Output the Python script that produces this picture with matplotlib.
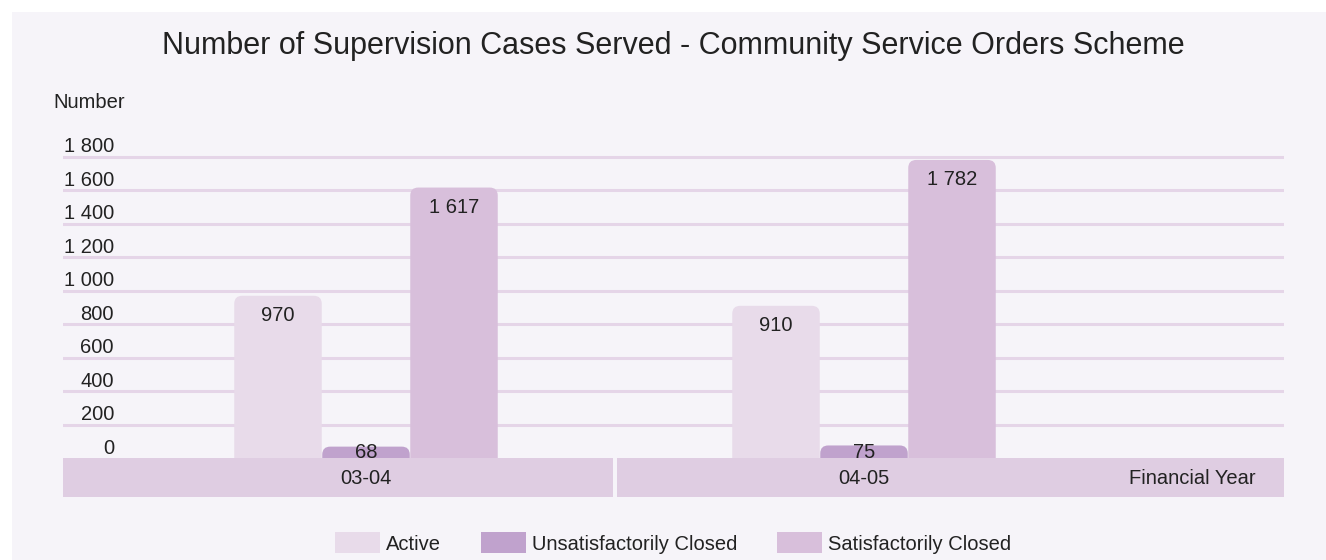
import matplotlib
matplotlib.use("Agg")
import matplotlib.pyplot as plt
from matplotlib.patches import FancyBboxPatch, Rectangle
import matplotlib.transforms as mtransforms

categories = ["03-04", "04-05"]
series_names = ["Active", "Unsatisfactorily Closed", "Satisfactorily Closed"]
active = [970, 910]
unsat = [68, 75]
sat = [1617, 1782]
yticks = [0, 200, 400, 600, 800, 1000, 1200, 1400, 1600, 1800]
ytick_labels = ["0", "200", "400", "600", "800", "1 000", "1 200", "1 400", "1 600", "1 800"]
value_labels = [["970", "910"], ["68", "75"], ["1 617", "1 782"]]

colors = ["#e8dbea", "#c0a2cd", "#d8bfdb"]
band_color = "#dfcde2"
grid_color = "#e5d5e8"
bg = "#f6f4f9"
text_color = "#222222"
FS = 14.5

plt.rcParams['font.family'] = ['Liberation Sans', 'DejaVu Sans']

W, H = 1326, 560
fig = plt.figure(figsize=(W / 100, H / 100), dpi=100)
fig.patch.set_facecolor("white")
fig.patches.append(Rectangle((12 / W, 0), 1 - 12 / W, 1 - 12 / H, transform=fig.transFigure,
                             facecolor=bg, edgecolor="none", zorder=-10))

# axes placement in pixels
ax_left, ax_right, ax_top, ax_bottom = 63, 1284, 150, 497
ax = fig.add_axes([ax_left / W, 1 - ax_bottom / H, (ax_right - ax_left) / W, (ax_bottom - ax_top) / H])
ax.set_facecolor("none")
for s in ax.spines.values():
    s.set_visible(False)
ax.set_xticks([])
ax.set_yticks([])

px_per_unit_y = 33.45 / 200.0
zero_px = 458
ymin = -(ax_bottom - zero_px) / px_per_unit_y
ymax = (zero_px - ax_top) / px_per_unit_y
x0_px, x1_px = 366, 864
px_per_unit_x = x1_px - x0_px
xmin = (ax_left - x0_px) / px_per_unit_x
xmax = (ax_right - x0_px) / px_per_unit_x
ax.set_xlim(xmin, xmax)
ax.set_ylim(ymin, ymax)

# gridlines
for t in yticks[1:]:
    ax.axhline(t, color=grid_color, lw=2.2, zorder=1)

# y tick labels (above lines)
ytrans = mtransforms.offset_copy(ax.get_yaxis_transform(), fig=fig, x=0, y=10, units='dots')
for t, lab in zip(yticks, ytick_labels):
    ax.text((114 - ax_left) / (ax_right - ax_left), t, lab, transform=ytrans,
            ha='right', va='center', fontsize=FS, color=text_color)

# bars
bar_w = 88 / px_per_unit_x
offsets = [-bar_w, 0, bar_w]
all_series = [active, unsat, sat]
r_x = 8 / px_per_unit_x
aspect = (1 / px_per_unit_y) / (1 / px_per_unit_x)
ext = 60
for si, (vals, col) in enumerate(zip(all_series, colors)):
    for ci, v in enumerate(vals):
        xc = ci + offsets[si]
        p = FancyBboxPatch((xc - bar_w / 2 + 0.0005, -ext), bar_w - 0.001, v + ext,
                           boxstyle=f"round,pad=0,rounding_size={r_x}",
                           mutation_aspect=aspect, facecolor=col, edgecolor="none", zorder=2)
        ax.add_patch(p)
        ly = max(v - 20 / px_per_unit_y, 6 / px_per_unit_y)
        ax.text(xc, ly, value_labels[si][ci], ha='center', va='center', fontsize=FS,
                color=text_color, zorder=5)

# category band
gap = 3.5 / px_per_unit_x
ax.add_patch(Rectangle((xmin, ymin), 0.5 - gap / 2 - xmin, -ymin, facecolor=band_color,
                       edgecolor="none", zorder=3))
ax.add_patch(Rectangle((0.5 + gap / 2, ymin), xmax - 0.5 - gap / 2, -ymin, facecolor=band_color,
                       edgecolor="none", zorder=3))
lab_y = ymin / 2 - 1.5 / px_per_unit_y
for ci, c in enumerate(categories):
    ax.text(ci, lab_y, c, ha='center', va='center', fontsize=FS, color=text_color, zorder=4)
ax.text((1256 - x0_px) / px_per_unit_x, lab_y, "Financial Year", ha='right', va='center',
        fontsize=FS, color=text_color, zorder=4)

# titles
fig.text(673 / W, 1 - 46 / H, "Number of Supervision Cases Served - Community Service Orders Scheme",
         ha='center', va='center', fontsize=22, color=text_color)
fig.text(53 / W, 1 - 103 / H, "Number", ha='left', va='center', fontsize=FS, color=text_color)

# legend
leg = ax.legend(handles=[Rectangle((0, 0), 1, 1, facecolor=c, edgecolor='none') for c in colors],
                labels=series_names, loc='center', bbox_to_anchor=(673 / W, 1 - 543 / H),
                bbox_transform=fig.transFigure, ncol=3, frameon=False, fontsize=FS,
                handlelength=2.23, handleheight=1.19, handletextpad=0.3, columnspacing=1.99,
                labelcolor=text_color)

fig.savefig("out.png", dpi=100, facecolor=fig.get_facecolor())
